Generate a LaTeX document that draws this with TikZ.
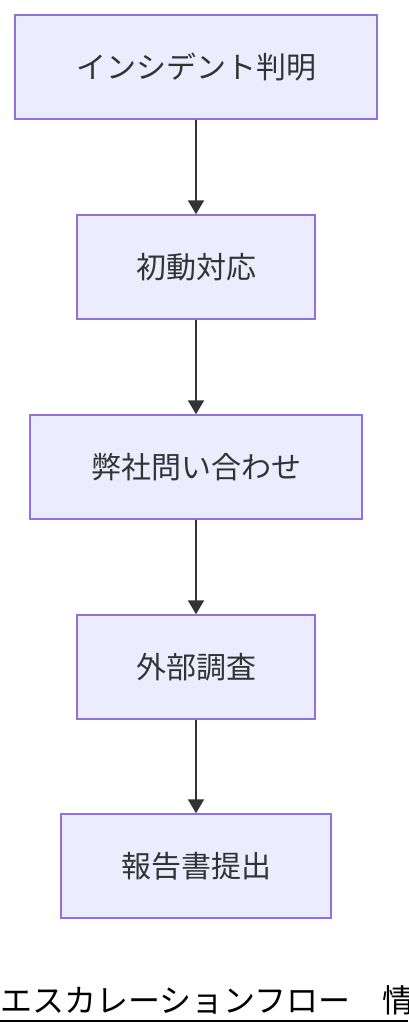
\documentclass[tikz,border=0pt]{standalone}
\usepackage{fontspec}
\newfontfamily\cjk{Noto Sans CJK JP}
\usetikzlibrary{arrows.meta}
\definecolor{boxfill}{HTML}{ECECFF}
\definecolor{boxline}{HTML}{9370DB}
\definecolor{arrowc}{HTML}{333333}
\tikzset{
  flowbox/.style={draw=boxline, fill=boxfill, line width=1.5pt, minimum height=104pt, inner sep=0pt, font=\cjk\fontsize{30pt}{36pt}\selectfont, text=arrowc, anchor=center},
  flowarrow/.style={draw=arrowc, line width=2pt, -{Triangle[width=16pt,length=14pt]}}
}
\begin{document}
\begin{tikzpicture}[x=1pt,y=-1pt]
\useasboundingbox (0,0) rectangle (408,1036);
\clip (0,0) rectangle (408,1036);
\node[flowbox, minimum width=362pt] (b1) at (196,67) {インシデント判明};
\node[flowbox, minimum width=238pt] (b2) at (196,267) {初動対応};
\node[flowbox, minimum width=332pt] (b3) at (196,467) {弊社問い合わせ};
\node[flowbox, minimum width=238pt] (b4) at (196,667) {外部調査};
\node[flowbox, minimum width=270pt] (b5) at (196,866) {報告書提出};
\draw[flowarrow] (b1.south) -- (b2.north);
\draw[flowarrow] (b2.south) -- (b3.north);
\draw[flowarrow] (b3.south) -- (b4.north);
\draw[flowarrow] (b4.south) -- (b5.north);
\node[anchor=base west, inner sep=0pt, font=\cjk\fontsize{32pt}{38pt}\selectfont, text=black] (title) at (0,1012) {エスカレーションフロー　情};
\draw[black, line width=1.8pt] (0,1021) -- (408,1021);
\end{tikzpicture}
\end{document}
